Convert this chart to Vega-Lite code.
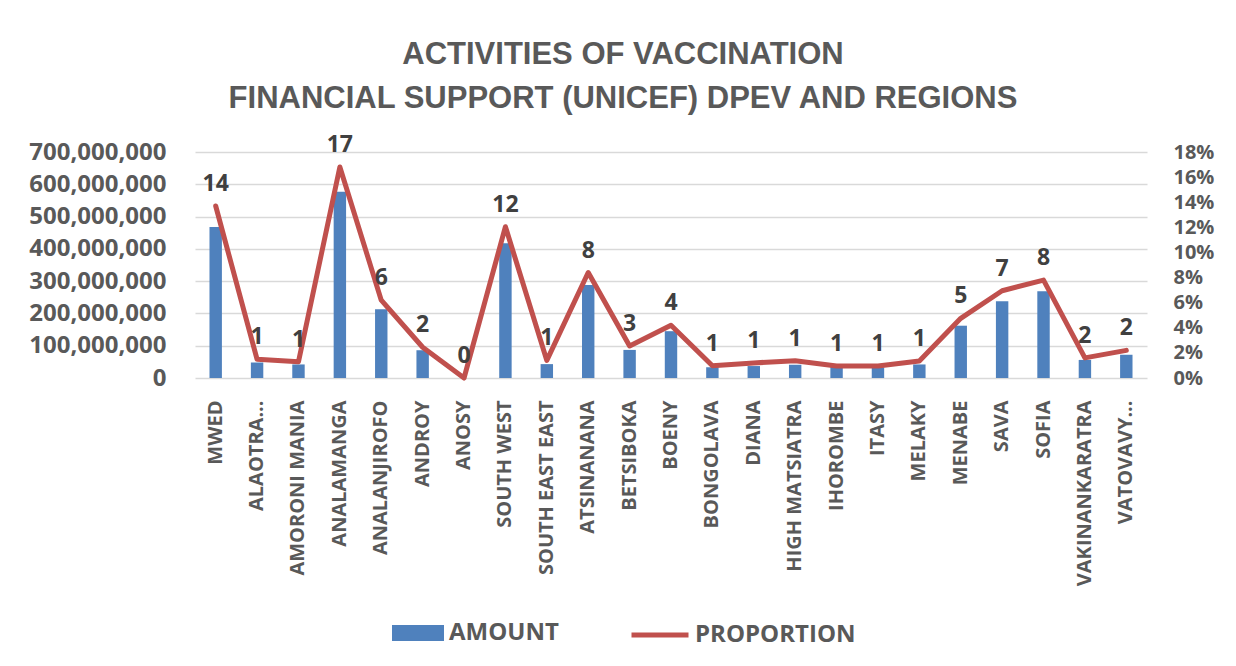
{
  "$schema": "https://vega.github.io/schema/vega-lite/v6.json",
  "autosize": {"type": "none"},
  "width": 952,
  "height": 226,
  "padding": {"left": 195, "top": 152, "right": 89, "bottom": 288},
  "background": "white",
  "config": {"view": {"stroke": null}, "font": "Open Sans"},
  "title": {
    "text": ["ACTIVITIES OF VACCINATION", "FINANCIAL SUPPORT (UNICEF) DPEV AND REGIONS"],
    "font": "Liberation Sans",
    "fontSize": 31,
    "fontWeight": "bold",
    "color": "#595959",
    "anchor": "middle",
    "frame": "group",
    "dx": -48,
    "lineHeight": 44,
    "offset": 19
  },
  "data": {
    "values": [
      {"region": "MWED", "amount": 468000000, "proportion": 0.137, "label": "14"},
      {"region": "ALAOTRA...", "amount": 48000000, "proportion": 0.0149, "label": "1"},
      {"region": "AMORONI MANIA", "amount": 42000000, "proportion": 0.013, "label": "1"},
      {"region": "ANALAMANGA", "amount": 577000000, "proportion": 0.168, "label": "17"},
      {"region": "ANALANJIROFO", "amount": 213000000, "proportion": 0.062, "label": "6"},
      {"region": "ANDROY", "amount": 86000000, "proportion": 0.0245, "label": "2"},
      {"region": "ANOSY", "amount": 0, "proportion": 0, "label": "0"},
      {"region": "SOUTH WEST", "amount": 417000000, "proportion": 0.1205, "label": "12"},
      {"region": "SOUTH EAST EAST", "amount": 43000000, "proportion": 0.014, "label": "1"},
      {"region": "ATSINANANA", "amount": 288000000, "proportion": 0.084, "label": "8"},
      {"region": "BETSIBOKA", "amount": 87000000, "proportion": 0.0255, "label": "3"},
      {"region": "BOENY", "amount": 145000000, "proportion": 0.042, "label": "4"},
      {"region": "BONGOLAVA", "amount": 33000000, "proportion": 0.0098, "label": "1"},
      {"region": "DIANA", "amount": 37000000, "proportion": 0.012, "label": "1"},
      {"region": "HIGH MATSIATRA", "amount": 41000000, "proportion": 0.0138, "label": "1"},
      {"region": "IHOROMBE", "amount": 35000000, "proportion": 0.0096, "label": "1"},
      {"region": "ITASY", "amount": 33000000, "proportion": 0.0096, "label": "1"},
      {"region": "MELAKY", "amount": 42000000, "proportion": 0.0135, "label": "1"},
      {"region": "MENABE", "amount": 162000000, "proportion": 0.0475, "label": "5"},
      {"region": "SAVA", "amount": 238000000, "proportion": 0.0695, "label": "7"},
      {"region": "SOFIA", "amount": 269000000, "proportion": 0.078, "label": "8"},
      {"region": "VAKINANKARATRA", "amount": 56000000, "proportion": 0.016, "label": "2"},
      {"region": "VATOVAVY...", "amount": 72000000, "proportion": 0.022, "label": "2"}
    ]
  },
  "encoding": {
    "x": {
      "field": "region",
      "type": "nominal",
      "sort": null,
      "scale": {"paddingInner": 0, "paddingOuter": 0},
      "axis": {
        "title": null,
        "labelAngle": -90,
        "labelFont": "Open Sans",
        "labelFontWeight": "bold",
        "labelFontSize": 20,
        "labelColor": "#595959",
        "labelLimit": 300,
        "ticks": false,
        "tickSize": 0,
        "domain": false,
        "labelPadding": 22
      }
    }
  },
  "layer": [
    {
      "mark": {"type": "bar", "width": {"band": 0.3}},
      "encoding": {
        "y": {
          "field": "amount",
          "type": "quantitative",
          "scale": {"domain": [0, 700000000], "nice": false},
          "axis": {
            "title": null,
            "values": [0, 100000000, 200000000, 300000000, 400000000, 500000000, 600000000, 700000000],
            "format": ",d",
            "grid": true,
            "gridColor": "#D9D9D9",
            "gridWidth": 1.5,
            "domain": false,
            "ticks": false,
            "tickSize": 0,
            "labelPadding": 29,
            "labelFont": "Open Sans",
            "labelFontSize": 24,
            "labelFontWeight": "bold",
            "labelColor": "#595959"
          }
        },
        "fill": {
          "datum": "AMOUNT",
          "type": "nominal",
          "scale": {"range": ["#4F81BD"]},
          "legend": {
            "orient": "none",
            "legendX": 197,
            "legendY": 455,
            "title": null,
            "symbolType": "M-1,-0.31H1V0.31H-1Z",
            "symbolSize": 2704,
            "symbolStrokeWidth": 0,
            "labelFont": "Open Sans",
            "labelFontSize": 24,
            "labelFontWeight": "bold",
            "labelColor": "#595959",
            "labelLimit": 300,
            "labelOffset": 5
          }
        }
      }
    },
    {
      "encoding": {
        "y": {
          "field": "proportion",
          "type": "quantitative",
          "scale": {"domain": [0, 0.18], "nice": false},
          "axis": {
            "orient": "right",
            "title": null,
            "values": [0, 0.02, 0.04, 0.06, 0.08, 0.1, 0.12, 0.14, 0.16, 0.18],
            "format": ".0%",
            "grid": false,
            "domain": false,
            "ticks": false,
            "tickSize": 0,
            "labelPadding": 26,
            "labelFont": "Open Sans",
            "labelFontSize": 20,
            "labelFontWeight": "bold",
            "labelColor": "#595959"
          }
        }
      },
      "layer": [
        {
          "mark": {"type": "line", "strokeWidth": 5, "strokeCap": "round", "strokeJoin": "round"},
          "encoding": {
            "stroke": {
              "datum": "PROPORTION",
              "type": "nominal",
              "scale": {"range": ["#C0504D"]},
              "legend": {
                "orient": "none",
                "legendX": 434,
                "legendY": 452,
                "title": null,
                "symbolType": "stroke",
                "symbolSize": 3249,
                "symbolStrokeWidth": 5,
                "labelFont": "Open Sans",
                "labelFontSize": 24,
                "labelFontWeight": "bold",
                "labelColor": "#595959",
                "labelLimit": 300,
                "labelOffset": 4
              }
            }
          }
        },
        {
          "mark": {"type": "text", "baseline": "bottom", "align": "center", "dy": -10, "font": "Open Sans", "fontSize": 23, "fontWeight": "bold", "fill": "#404040"},
          "encoding": {"text": {"field": "label", "type": "nominal"}}
        }
      ]
    }
  ],
  "resolve": {"scale": {"y": "independent"}}
}
